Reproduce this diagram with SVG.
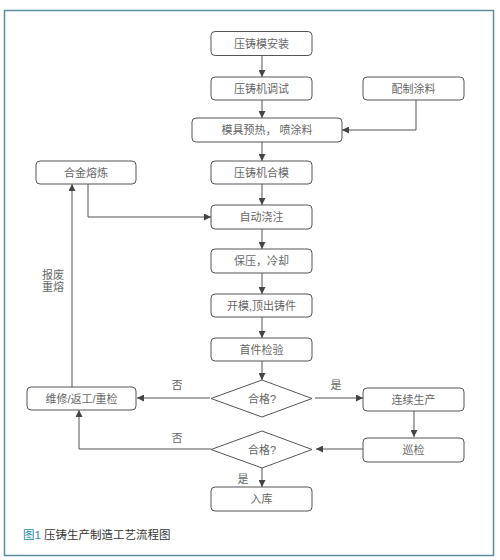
<svg xmlns="http://www.w3.org/2000/svg" width="500" height="560" viewBox="0 0 500 560">
<style>
.box{fill:#fff;stroke:#555;stroke-width:1}
.t{font-family:"Liberation Sans","Noto Sans CJK SC",sans-serif;font-size:11px;fill:#666;text-anchor:middle}
.lab{font-family:"Liberation Sans","Noto Sans CJK SC",sans-serif;font-size:11px;fill:#666;text-anchor:middle}
.ln{fill:none;stroke:#555;stroke-width:1}
</style>
<defs>
<marker id="ah" viewBox="0 0 10 10" refX="10" refY="5" markerWidth="7" markerHeight="7" markerUnits="userSpaceOnUse" orient="auto">
<path d="M0,0 L10,5 L0,10 Z" fill="#444"/>
</marker>
</defs>
<rect x="0" y="0" width="500" height="560" fill="#fff"/>
<rect x="4.5" y="10.5" width="489" height="545" fill="#fff" stroke="#5e8e9c" stroke-width="1.5"/>

<g id="connectors">
<path class="ln" d="M262,55 V77" marker-end="url(#ah)"/>
<path class="ln" d="M262,100 V118" marker-end="url(#ah)"/>
<path class="ln" d="M416,100 V130 H342" marker-end="url(#ah)"/>
<path class="ln" d="M262,142 V161" marker-end="url(#ah)"/>
<path class="ln" d="M262,184 V205" marker-end="url(#ah)"/>
<path class="ln" d="M88,184 V217 H211" marker-end="url(#ah)"/>
<path class="ln" d="M262,229 V249" marker-end="url(#ah)"/>
<path class="ln" d="M262,273 V294" marker-end="url(#ah)"/>
<path class="ln" d="M262,317 V338" marker-end="url(#ah)"/>
<path class="ln" d="M262,361 V380" marker-end="url(#ah)"/>
<path class="ln" d="M210,398 H137" marker-end="url(#ah)"/>
<path class="ln" d="M315,398 H363" marker-end="url(#ah)"/>
<path class="ln" d="M72,387 V184" marker-end="url(#ah)"/>
<path class="ln" d="M414,411 V437" marker-end="url(#ah)"/>
<path class="ln" d="M363,449 H316" marker-end="url(#ah)"/>
<path class="ln" d="M211,449 H79 V410" marker-end="url(#ah)"/>
<path class="ln" d="M262,468 V487" marker-end="url(#ah)"/>
<text class="lab" x="177" y="389">否</text>
<text class="lab" x="336" y="389">是</text>
<text class="lab" x="177" y="442">否</text>
<text class="lab" x="243" y="483">是</text>
<text class="lab" x="53" y="279">报废</text>
<text class="lab" x="53" y="291">重熔</text>
</g>

<g id="n1"><rect class="box" x="211" y="31.5" width="101" height="24" rx="4"/><text class="t" x="261.5" y="47.5">压铸模安装</text></g>
<g id="n2"><rect class="box" x="211" y="77" width="101" height="23" rx="4"/><text class="t" x="261.5" y="92.5">压铸机调试</text></g>
<g id="n3"><rect class="box" x="363" y="77" width="101" height="23" rx="4"/><text class="t" x="413.5" y="92.5">配制涂料</text></g>
<g id="n4"><rect class="box" x="192" y="118" width="150" height="24" rx="4"/><text class="t" x="267" y="134">模具预热， 喷涂料</text></g>
<g id="n5"><rect class="box" x="211" y="161" width="101" height="23" rx="4"/><text class="t" x="261.5" y="176.5">压铸机合模</text></g>
<g id="n6"><rect class="box" x="36" y="161" width="100" height="23" rx="4"/><text class="t" x="86" y="176.5">合金熔炼</text></g>
<g id="n7"><rect class="box" x="211" y="205" width="101" height="24" rx="4"/><text class="t" x="261.5" y="221">自动浇注</text></g>
<g id="n8"><rect class="box" x="211" y="249" width="101" height="24" rx="4"/><text class="t" x="261.5" y="265">保压，冷却</text></g>
<g id="n9"><rect class="box" x="211" y="294" width="101" height="23" rx="4"/><text class="t" x="261.5" y="309.5">开模,顶出铸件</text></g>
<g id="n10"><rect class="box" x="211" y="338" width="101" height="23" rx="4"/><text class="t" x="261.5" y="353.5">首件检验</text></g>
<g id="n11"><path class="box" d="M262,380 L312,398.5 L262,417 L211,398.5 Z"/><text class="t" x="262" y="402.5">合格?</text></g>
<g id="n12"><rect class="box" x="27" y="387" width="109" height="23" rx="4"/><text class="t" x="81.5" y="402.5">维修/返工/重检</text></g>
<g id="n13"><rect class="box" x="363" y="388" width="101" height="23" rx="4"/><text class="t" x="413.5" y="403.5">连续生产</text></g>
<g id="n14"><rect class="box" x="363" y="438" width="101" height="24" rx="4"/><text class="t" x="413.5" y="454">巡检</text></g>
<g id="n15"><path class="box" d="M262,431 L312,449.5 L262,468 L211,449.5 Z"/><text class="t" x="262" y="453.5">合格?</text></g>
<g id="n16"><rect class="box" x="211" y="487" width="101" height="24" rx="4"/><text class="t" x="261.5" y="503">入库</text></g>

<text x="23" y="539" font-family="Liberation Sans,Noto Sans CJK SC,sans-serif" font-size="11.5" fill="#333"><tspan fill="#2a8aa8">图1</tspan> 压铸生产制造工艺流程图</text>
</svg>
